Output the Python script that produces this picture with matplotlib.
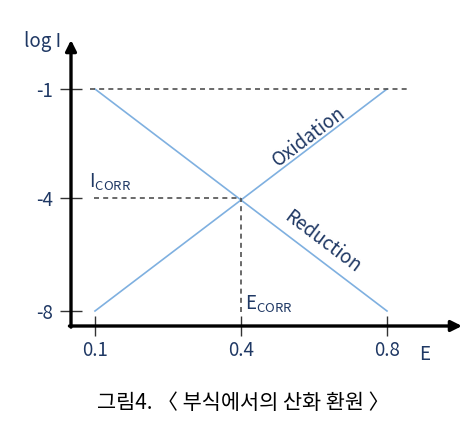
import numpy as np
import matplotlib
matplotlib.use('Agg')
import matplotlib.pyplot as plt

plt.rcParams['font.family'] = ['Noto Sans CJK KR', 'DejaVu Sans']

# schematic data
e_ticks = [0.1, 0.4, 0.8]
logi_ticks = [-1, -4, -8]
oxidation_e = [0.1, 0.8]
oxidation_logi = [-8, -1]
reduction_e = [0.1, 0.8]
reduction_logi = [-1, -8]
e_corr = 0.4
i_corr = -4

navy = '#1f3864'
blue = '#7fb0e0'
dash = '#505050'


# the picture spaces its ticks evenly, not linearly -> piecewise scales
def x_fwd(x):
    x = np.asarray(x, float)
    return np.where(x < 0.4, (x - 0.1) / 0.3, 1 + (x - 0.4) / 0.4)

def x_inv(u):
    u = np.asarray(u, float)
    return np.where(u < 1, 0.1 + 0.3 * u, 0.4 + 0.4 * (u - 1))

def y_fwd(y):
    y = np.asarray(y, float)
    return np.where(y < -4, (y + 8) / 4 * 113, 113 + (y + 4) / 3 * 109)

def y_inv(v):
    v = np.asarray(v, float)
    return np.where(v < 113, -8 + v / 113 * 4, -4 + (v - 113) / 109 * 3)


fig = plt.figure(figsize=(4.74, 4.24), dpi=100)
ax = fig.add_axes([71 / 474, 1 - 326 / 424, (462 - 71) / 474, (326 - 40) / 424])
ax.set_xscale('function', functions=(x_fwd, x_inv))
ax.set_yscale('function', functions=(y_fwd, y_inv))
ax.set_xlim(0.0507, 1.0055)
ax.set_ylim(-8.531, 0.349)

for s in ax.spines.values():
    s.set_visible(False)

ax.annotate('', xy=(0, 1), xytext=(0, -0.004), xycoords='axes fraction',
            arrowprops=dict(arrowstyle='-|>', lw=2.4, color='black', mutation_scale=16,
                            shrinkA=0, shrinkB=0))
ax.annotate('', xy=(1, 0), xytext=(-0.004, 0), xycoords='axes fraction',
            arrowprops=dict(arrowstyle='-|>', lw=2.4, color='black', mutation_scale=16,
                            shrinkA=0, shrinkB=0))

ax.plot(oxidation_e, oxidation_logi, color=blue, lw=1.2)
ax.plot(reduction_e, reduction_logi, color=blue, lw=1.2)

ax.hlines(-1, 0.09, 0.863, colors=dash, linestyles=(0, (3, 2.5)), lw=1.2)
ax.hlines(i_corr, 0.097, e_corr, colors=dash, linestyles=(0, (3, 2.5)), lw=1.2)
ax.vlines(e_corr, -8.05, i_corr, colors=dash, linestyles=(0, (3, 2.5)), lw=1.2)

ax.set_xticks(e_ticks, [str(t) for t in e_ticks])
ax.set_yticks(logi_ticks, [str(t) for t in logi_ticks])
ax.minorticks_off()
ax.tick_params(axis='x', direction='inout', length=14, width=1, color='#333333',
               labelsize=13.5, labelcolor=navy, pad=3)
ax.tick_params(axis='y', direction='inout', length=16, width=1, color='#333333',
               labelsize=13.5, labelcolor=navy, pad=5)

ax.text(0.585, -2.3, 'Oxidation', rotation=37, ha='center', va='center',
        color=navy, fontsize=13.5)
ax.text(0.622, -5.56, 'Reduction', rotation=-37, ha='center', va='center',
        color=navy, fontsize=13.5)
ax.text(0.088, -3.85, r'I$_{\mathregular{CORR}}$', ha='left', va='bottom',
        color=navy, fontsize=13.5)
ax.text(0.41, -7.75, r'E$_{\mathregular{CORR}}$', ha='left', va='center',
        color=navy, fontsize=13.5)

fig.text(43 / 474, 1 - 42 / 424, 'log I', ha='center', va='center', color=navy, fontsize=13.5)
fig.text(425 / 474, 1 - 354 / 424, 'E', ha='center', va='center', color=navy, fontsize=13.5)
fig.text(243 / 474, 1 - 403 / 424, '그림4. 〈 부식에서의 산화 환원 〉', ha='center', va='center',
         color='black', fontsize=15)

fig.savefig('out.png', dpi=100)
